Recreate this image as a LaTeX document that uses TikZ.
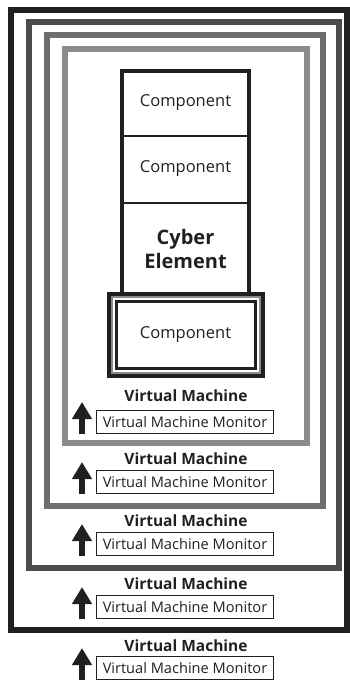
\documentclass[tikz,border=0pt]{standalone}
\usepackage{fontspec}
\setmainfont{Open Sans}
\usetikzlibrary{arrows.meta}
\definecolor{ringa}{HTML}{231F20}
\definecolor{ringb}{HTML}{4D4D4F}
\definecolor{ringc}{HTML}{6D6E70}
\definecolor{ringd}{HTML}{8A8B8D}
\tikzset{
  ring/.style={line width=6.5pt},
  vmlabel/.style={font=\bfseries\fontsize{15.5}{17}\selectfont, text=ringa, inner sep=0pt},
  vmmbox/.style={draw=ringa, line width=1.6pt, minimum width=177pt, minimum height=23pt,
    inner sep=0pt, text=ringa, font=\fontsize{14.6}{16}\selectfont},
  compname/.style={text=ringa, font=\fontsize{16.5}{18}\selectfont},
  uparrow/.style={-{Triangle[width=19pt,length=17pt]}, line width=5.5pt, draw=ringa},
}
\begin{document}
\begin{tikzpicture}[x=1pt,y=-1pt]
\useasboundingbox (0,0) rectangle (350,686);
% nested virtual machines
\draw[ring, ringa] (11,10) rectangle (347,630);
\draw[ring, ringb] (29,22) rectangle (339,568);
\draw[ring, ringc] (47,35) rectangle (323,506);
\draw[ring, ringd] (65,49) rectangle (307,443);

% cyber element
\draw[line width=3.5pt, ringa] (122,294) -- (122,71) -- (249,71) -- (249,294);
\draw[line width=1.3pt, ringa] (122,136) -- (249,136);
\draw[line width=1.3pt, ringa] (122,203) -- (249,203);
\node[compname] (comp1) at (185.5,103) {Component};
\node[compname] (comp2) at (185.5,169) {Component};
\node[text=ringa, font=\bfseries\fontsize{20}{24}\selectfont, align=center] (cyber) at (185.5,249) {Cyber\\Element};

% framed component
\draw[line width=3.2pt, ringa, fill=white] (109,294) rectangle (263,376);
\draw[line width=2.2pt, ringd] (112.3,297.3) rectangle (259.7,372.7);
\draw[line width=3.2pt, ringa] (116.5,301.5) rectangle (255.5,368.5);
\node[compname] (comp3) at (185.5,335) {Component};

% machine layers
\foreach \i/\ly/\by in {1/396/422, 2/459/482, 3/521/544, 4/584/607, 5/646/668} {
  \node[vmlabel] (vm\i) at (186,\ly) {Virtual Machine};
  \node[vmmbox] (vmm\i) at (185,\by) {Virtual Machine Monitor};
  \coordinate (tail\i) at (82,\by+12);
  \coordinate (head\i) at (82,\by-20);
  \draw[uparrow] (tail\i) -- (head\i);
}
\end{tikzpicture}
\end{document}
